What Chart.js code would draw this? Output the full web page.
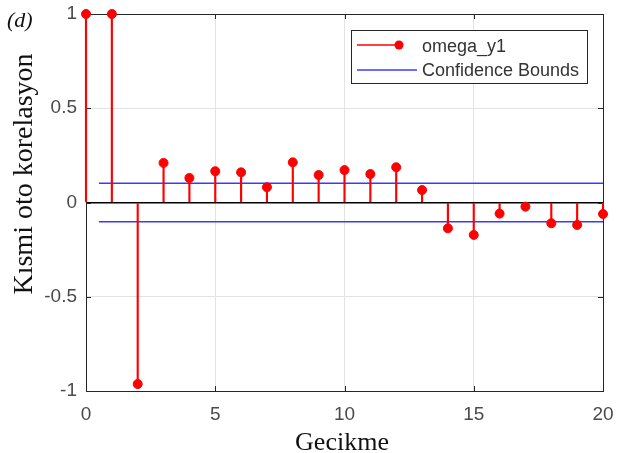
<!DOCTYPE html>
<html>
<head>
<meta charset="utf-8">
<script src="https://cdn.jsdelivr.net/npm/chart.js@4.4.1/dist/chart.umd.min.js"></script>
<style>
  html, body { margin: 0; padding: 0; background: #fff; }
  #wrap { width: 617px; height: 453px; position: relative; }
</style>
</head>
<body>
<div id="wrap"><canvas id="pacfChart"></canvas></div>
<script>
// lags and partial autocorrelation values
const lags = [0, 1, 2, 3, 4, 5, 6, 7, 8, 9, 10, 11, 12, 13, 14, 15, 16, 17, 18, 19, 20];
const pacf = [1, 1, -0.963, 0.21, 0.13, 0.166, 0.16, 0.081, 0.213, 0.146, 0.172, 0.151, 0.187, 0.066,
              -0.137, -0.172, -0.059, -0.022, -0.11, -0.119, -0.061];
// confidence bounds (start/end lag, level)
const boundLags = [0.5, 20];
const boundUpper = [0.102, 0.102];
const boundLower = [-0.102, -0.102];
const xTicks = [0, 5, 10, 15, 20];
const yTicks = [-1, -0.5, 0, 0.5, 1];
const seriesName = 'omega_y1';
const boundsName = 'Confidence Bounds';
const xTitle = 'Gecikme';
const yTitle = 'Kısmi oto korelasyon';
const panelTag = '(d)';

const RED = '#ff0000';
const BLUE = '#3a3aff';
const AXIS = '#262626';

const stemPoints = lags.map((x, i) => ({ x: x, y: pacf[i] }));

// box, inward ticks, titles and legend drawn on top of the chart
const decor = {
    id: 'decor',
    beforeDatasetsDraw(chart) {
        const { ctx, chartArea: a, scales } = chart;
        ctx.save();
        ctx.strokeStyle = AXIS;
        ctx.lineWidth = 1;
        ctx.strokeRect(Math.round(a.left) + 0.5, Math.round(a.top) + 0.5,
                       Math.round(a.right - a.left), Math.round(a.bottom - a.top));
        ctx.beginPath();
        xTicks.forEach(v => {
            const px = Math.round(scales.x.getPixelForValue(v)) + 0.5;
            ctx.moveTo(px, a.bottom); ctx.lineTo(px, a.bottom - 5);
            ctx.moveTo(px, a.top); ctx.lineTo(px, a.top + 5);
        });
        yTicks.forEach(v => {
            const py = Math.round(scales.y.getPixelForValue(v)) + 0.5;
            ctx.moveTo(a.left, py); ctx.lineTo(a.left + 5, py);
            ctx.moveTo(a.right, py); ctx.lineTo(a.right - 5, py);
        });
        ctx.stroke();
        ctx.restore();
    },
    afterDraw(chart) {
        const { ctx } = chart;
        ctx.save();
        // titles
        ctx.fillStyle = '#111';
        ctx.font = '26px "Liberation Serif"';
        ctx.textAlign = 'center';
        ctx.textBaseline = 'alphabetic';
        ctx.fillText(xTitle, 342, 450);

        ctx.save();
        ctx.translate(32, 174);
        ctx.rotate(-Math.PI / 2);
        ctx.font = '28px "Liberation Serif"';
        ctx.fillText(yTitle, 0, 0);
        ctx.restore();

        ctx.font = 'italic 22px "Liberation Serif"';
        ctx.textAlign = 'left';
        ctx.fillText(panelTag, 7, 27);

        // legend
        const lx = 351, ly = 30, lw = 236, lh = 53;
        ctx.fillStyle = '#fff';
        ctx.fillRect(lx, ly, lw, lh);
        ctx.strokeStyle = AXIS;
        ctx.lineWidth = 1;
        ctx.strokeRect(lx + 0.5, ly + 0.5, lw, lh);

        ctx.strokeStyle = RED;
        ctx.lineWidth = 1.3;
        ctx.beginPath(); ctx.moveTo(357, 45); ctx.lineTo(399, 45); ctx.stroke();
        ctx.fillStyle = RED;
        ctx.beginPath(); ctx.arc(399, 45, 4.5, 0, Math.PI * 2); ctx.fill();

        ctx.strokeStyle = BLUE;
        ctx.lineWidth = 1.3;
        ctx.beginPath(); ctx.moveTo(357, 70); ctx.lineTo(417, 70); ctx.stroke();

        ctx.fillStyle = '#333';
        ctx.font = '18px "Liberation Sans"';
        ctx.textBaseline = 'middle';
        ctx.fillText(seriesName, 422, 47);
        ctx.fillText(boundsName, 422, 71);
        ctx.restore();
    }
};

new Chart(document.getElementById('pacfChart'), {
    data: {
        datasets: [
            {
                type: 'scatter',
                label: seriesName,
                data: stemPoints,
                backgroundColor: RED,
                borderColor: RED,
                pointRadius: 4.5,
                pointHoverRadius: 4.5,
                clip: false,
                order: 0
            },
            {
                type: 'bar',
                label: seriesName + ' stems',
                data: stemPoints,
                backgroundColor: RED,
                barThickness: 1.5,
                grouped: false,
                clip: false,
                order: 1
            },
            {
                type: 'line',
                label: boundsName,
                data: boundLags.map((x, i) => ({ x: x, y: boundUpper[i] })),
                borderColor: BLUE,
                borderWidth: 1.3,
                pointRadius: 0,
                order: 2
            },
            {
                type: 'line',
                label: boundsName + ' lower',
                data: boundLags.map((x, i) => ({ x: x, y: boundLower[i] })),
                borderColor: BLUE,
                borderWidth: 1.3,
                pointRadius: 0,
                order: 2
            }
        ]
    },
    options: {
        responsive: true,
        maintainAspectRatio: false,
        animation: false,
        layout: { padding: { top: 14, right: 14, bottom: 0, left: 0 } },
        plugins: {
            legend: { display: false },
            tooltip: { enabled: false }
        },
        scales: {
            x: {
                type: 'linear',
                min: 0,
                max: 20,
                offset: false,
                afterFit: s => { s.height = 62; s.paddingLeft = 0; s.paddingRight = 0; },
                afterBuildTicks: s => { s.ticks = xTicks.map(v => ({ value: v })); },
                border: { display: false },
                grid: { color: '#e3e3e3', drawTicks: false, offset: false },
                ticks: {
                    color: '#4a4a4a',
                    padding: 12,
                    maxRotation: 0,
                    font: { family: 'Liberation Sans', size: 19 }
                }
            },
            y: {
                type: 'linear',
                min: -1,
                max: 1,
                afterFit: s => { s.width = 86; s.paddingTop = 0; s.paddingBottom = 0; },
                afterBuildTicks: s => { s.ticks = yTicks.map(v => ({ value: v })); },
                border: { display: false },
                grid: {
                    drawTicks: false,
                    color: c => c.tick && c.tick.value === 0 ? '#000' : '#e3e3e3',
                    lineWidth: c => c.tick && c.tick.value === 0 ? 1.5 : 1
                },
                ticks: {
                    color: '#4a4a4a',
                    padding: 9,
                    font: { family: 'Liberation Sans', size: 19 },
                    callback: v => String(v)
                }
            }
        }
    },
    plugins: [decor]
});
</script>
</body>
</html>
